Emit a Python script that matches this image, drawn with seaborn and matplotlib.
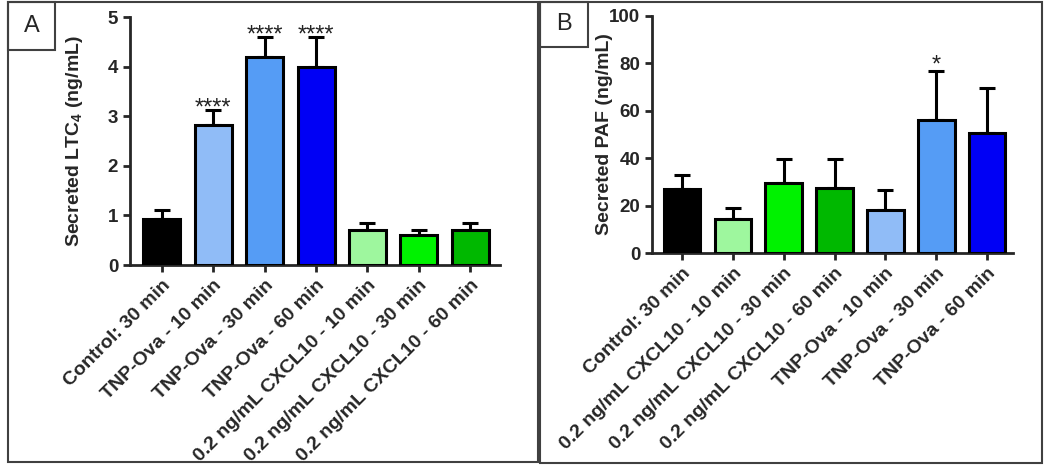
import numpy as np
import seaborn as sns
import matplotlib.pyplot as plt
from matplotlib.patches import Rectangle

# Panel A data (LTC4)
cats_a = ["Control: 30 min", "TNP-Ova - 10 min", "TNP-Ova - 30 min", "TNP-Ova - 60 min",
          "0.2 ng/mL CXCL10 - 10 min", "0.2 ng/mL CXCL10 - 30 min", "0.2 ng/mL CXCL10 - 60 min"]
vals_a = [0.93, 2.83, 4.20, 4.00, 0.70, 0.60, 0.70]
err_a = [0.17, 0.29, 0.40, 0.60, 0.14, 0.10, 0.15]
stars_a = ["", "****", "****", "****", "", "", ""]
colors_a = ["#000000", "#90BCF7", "#559CF5", "#0000F5", "#9EF79E", "#00F200", "#00B800"]

# Panel B data (PAF)
cats_b = ["Control: 30 min", "0.2 ng/mL CXCL10 - 10 min", "0.2 ng/mL CXCL10 - 30 min",
          "0.2 ng/mL CXCL10 - 60 min", "TNP-Ova - 10 min", "TNP-Ova - 30 min", "TNP-Ova - 60 min"]
vals_b = [27.0, 14.5, 29.5, 27.5, 18.0, 56.0, 50.5]
err_b = [6.0, 4.5, 10.0, 12.0, 8.5, 21.0, 19.0]
stars_b = ["", "", "", "", "", "*", ""]
colors_b = ["#000000", "#9EF79E", "#00F200", "#00B800", "#90BCF7", "#559CF5", "#0000F5"]

sns.set_style("ticks")
plt.rcParams['font.family'] = ['Liberation Sans', 'DejaVu Sans']
plt.rcParams['mathtext.fontset'] = 'custom'
plt.rcParams['mathtext.rm'] = 'Liberation Sans:bold'
plt.rcParams['mathtext.it'] = 'Liberation Sans:bold'
plt.rcParams['mathtext.bf'] = 'Liberation Sans:bold'

fig = plt.figure(figsize=(10.5, 4.71), dpi=100)
W, H = 1050, 471


def fx(px):
    return px / W


def fy(py):
    return 1 - py / H


def panel(ax, cats, vals, errs, stars, colors, ymax, yticks, ylabel, star_off, xlim, lab_x):
    sns.barplot(x=cats, y=vals, hue=cats, palette=colors, legend=False,
                errorbar=None, width=0.72, saturation=1, edgecolor="black",
                linewidth=2.2, ax=ax, zorder=3)
    x = np.arange(len(cats))
    ax.errorbar(x, vals, yerr=[np.zeros(len(vals)), errs], fmt="none",
                ecolor="black", elinewidth=2.2, capsize=6, capthick=2.2, zorder=2)
    for xi, v, e, s in zip(x, vals, errs, stars):
        if s:
            ax.text(xi, v + e + star_off, s, ha="center", va="center",
                    fontsize=17, color="#222222")
    ax.set_ylim(0, ymax)
    ax.set_xlim(*xlim)
    ax.set_yticks(yticks)
    ax.set_ylabel(ylabel, fontsize=14, fontweight="bold")
    ax.yaxis.set_label_coords(lab_x, 0.5)
    ax.tick_params(axis="y", labelsize=13.5, width=2, length=5)
    ax.tick_params(axis="x", labelsize=14, width=2, length=5)
    for lab in ax.get_yticklabels():
        lab.set_fontweight("bold")
    ax.set_xticks(x)
    ax.set_xticklabels(cats, rotation=45, ha="right", rotation_mode="anchor",
                       fontweight="bold")
    sns.despine(ax=ax)
    ax.spines["left"].set_linewidth(2)
    ax.spines["bottom"].set_linewidth(2)


ax_a = fig.add_axes([fx(130), fy(265), fx(370), fy(17) - fy(265)])
panel(ax_a, cats_a, vals_a, err_a, stars_a, colors_a, 5, [0, 1, 2, 3, 4, 5],
      "Secreted LTC$_4$ (ng/mL)", 0.03, (-0.62, 6.58), -0.122)

ax_b = fig.add_axes([fx(652), fy(253), fx(361), fy(16) - fy(253)])
panel(ax_b, cats_b, vals_b, err_b, stars_b, colors_b, 100, [0, 20, 40, 60, 80, 100],
      "Secreted PAF (ng/mL)", 2.0, (-0.59, 6.51), -0.108)

# panel frames and letter boxes
for (x0, y0, x1, y1) in [(8, 2, 538, 462), (540, 2, 1042, 463)]:
    fig.patches.append(Rectangle((fx(x0), fy(y1)), fx(x1 - x0), fy(y0) - fy(y1),
                                 transform=fig.transFigure, fill=False,
                                 edgecolor="#404040", linewidth=1.5))
for (x0, y0, x1, y1, t) in [(8, 2, 55, 50, "A"), (540, 2, 588, 47, "B")]:
    fig.patches.append(Rectangle((fx(x0), fy(y1)), fx(x1 - x0), fy(y0) - fy(y1),
                                 transform=fig.transFigure, fill=False,
                                 edgecolor="#404040", linewidth=1.5))
    fig.text(fx((x0 + x1) / 2), fy((y0 + y1) / 2), t, ha="center", va="center",
             fontsize=17)

fig.savefig("out.png", dpi=100)
